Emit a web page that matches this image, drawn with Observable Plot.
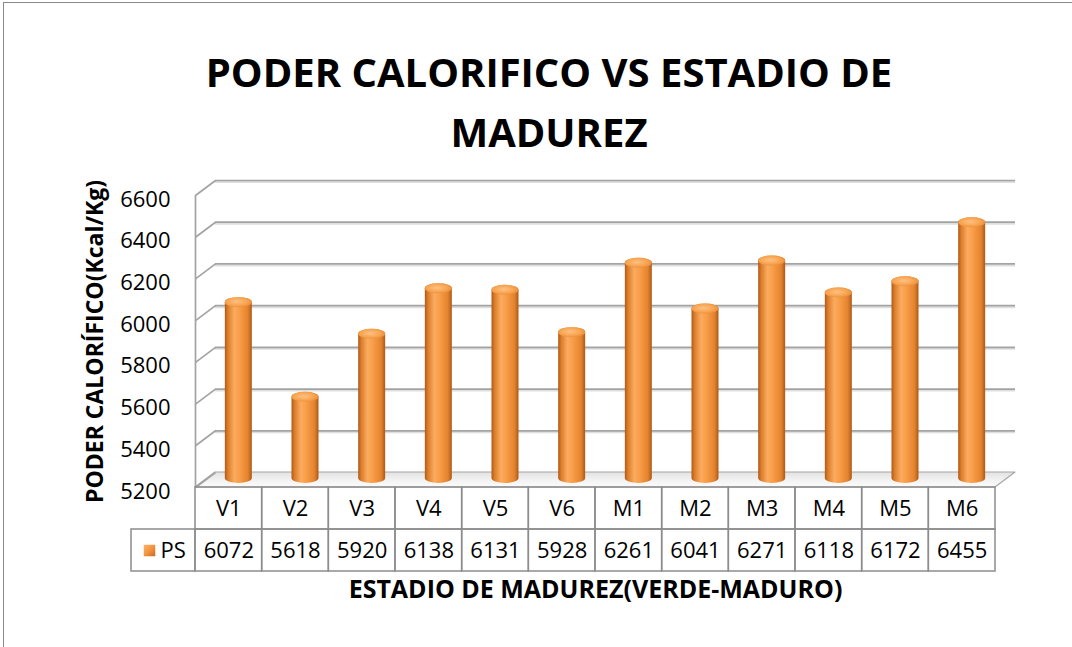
<!DOCTYPE html>
<html><head><meta charset="utf-8">
<script src="https://cdn.jsdelivr.net/npm/d3@7"></script>
<script src="https://cdn.jsdelivr.net/npm/@observablehq/plot@0.6"></script>
<style>
body{margin:0;background:#fff;}
#wrap{position:relative;width:1072px;height:647px;overflow:hidden;font-family:"Open Sans",sans-serif;background:#fff;}
#frame{position:absolute;left:3px;top:2px;width:1100px;height:700px;border-left:1.5px solid #8a8a8a;border-top:1.5px solid #8a8a8a;}
#title{position:absolute;left:13px;top:42px;width:1072px;text-align:center;font-weight:700;font-size:40px;line-height:60px;color:#000;}
#main{position:absolute;left:0;top:0;}
#table{position:absolute;left:0;top:486px;}
svg{overflow:visible;}
</style>
</head><body>
<div id="wrap">
  <div id="frame"></div>
  <div id="main"></div>
  <div id="table"></div>
  <div id="title">PODER CALORIFICO VS ESTADIO DE<br>MADUREZ</div>
</div>
<script>
// ---- data ----
const categories = ["V1","V2","V3","V4","V5","V6","M1","M2","M3","M4","M5","M6"];
const values = [6072,5618,5920,6138,6131,5928,6261,6041,6271,6118,6172,6455];
const seriesName = "PS";
const yTicks = [5200,5400,5600,5800,6000,6200,6400,6600];
const chartTitle = "PODER CALORIFICO VS ESTADIO DE MADUREZ";
const yTitle = "PODER CALORÍFICO(Kcal/Kg)";
const xTitle = "ESTADIO DE MADUREZ(VERDE-MADURO)";

// ---- layout ----
const W = 1072, H = 647, ML = 195, MR = 77, MT = 195, MB = 160;
const yMin = 5200, yMax = 6600;
const n = categories.length;
const plotW = W - ML - MR, plotH = H - MT - MB;
const ux = n / plotW, uy = (yMax - yMin) / plotH; // data units per px
const dXu = 20 * ux, dYu = 15 * uy;               // 3D depth
const halfBar = 13.5 * ux;
const font = '"Open Sans", sans-serif';

const rows = categories.map((c, i) => ({cat: c, i, v: values[i]}));
const floor = [
  {y: yMin, x1: 0, x2: n},
  {y: yMin + dYu, x1: dXu, x2: n + dXu}
];
const cx = d => d.i + 0.5 + dXu / 2;

const main = Plot.plot({
  width: W, height: H,
  marginLeft: ML, marginRight: MR, marginTop: MT, marginBottom: MB,
  x: {domain: [0, n], axis: null},
  y: {domain: [yMin, yMax], axis: null},
  style: {fontFamily: font, fontSize: "22px", color: "#000", background: "transparent", overflow: "visible"},
  marks: [
    Plot.areaX(floor, {y: "y", x1: "x1", x2: "x2", fill: "url(#floorGrad)", stroke: "#a6a6a6", strokeWidth: 1.2}),
    Plot.ruleY(yTicks.slice(1), {y: d => d + dYu, x1: dXu, x2: n + dXu, stroke: "#dedede", strokeWidth: 2, dy: 1.5}),
    Plot.ruleY(yTicks.slice(1), {y: d => d + dYu, x1: dXu, x2: n + dXu, stroke: "#a3a3a3", strokeWidth: 1.7}),
    Plot.link(yTicks, {x1: 0, y1: d => d, x2: dXu, y2: d => d + dYu, stroke: "#a3a3a3", strokeWidth: 1.7}),
    Plot.ruleX([0], {y1: yMin, y2: yMax, stroke: "#a3a3a3", strokeWidth: 1.7}),
    Plot.axisY(yTicks, {anchor: "left", tickSize: 0, tickPadding: 25, fontSize: 22, dy: 4, label: null, tickFormat: d => String(d)}),
    // cylinder bodies
    Plot.rect(rows, {x1: d => cx(d) - halfBar, x2: d => cx(d) + halfBar,
      y1: yMin + 4 * uy, y2: d => d.v + 8 * uy, rx: 13.5, ry: 5, fill: "url(#cylGrad)"}),
    // cylinder caps
    Plot.rect(rows, {x1: d => cx(d) - halfBar, x2: d => cx(d) + halfBar,
      y1: d => d.v - 2 * uy, y2: d => d.v + 8 * uy, rx: 13.5, ry: 5, fill: "url(#capGrad)"}),
    Plot.text([yTitle], {frameAnchor: "left", textAnchor: "middle", rotate: -90, dx: -100, fontSize: 23, fontWeight: 700, fill: "#000"}),
    Plot.text([xTitle], {frameAnchor: "bottom", textAnchor: "middle", dy: 110, fontSize: 25, fontWeight: 700, fill: "#000"})
  ]
});
const mainSvg = main.tagName.toLowerCase() === "svg" ? main : main.querySelector("svg");
const defs = d3.select(mainSvg).insert("defs", ":first-child");
const g1 = defs.append("linearGradient").attr("id", "cylGrad").attr("x1", 0).attr("x2", 1).attr("y1", 0).attr("y2", 0);
[[0,"#b05a17"],[0.12,"#dc7e2c"],[0.35,"#fbab5f"],[0.55,"#f89d48"],[0.85,"#e4832e"],[1,"#ad5918"]]
  .forEach(([o,c]) => g1.append("stop").attr("offset", o).attr("stop-color", c));
const g2 = defs.append("radialGradient").attr("id", "capGrad").attr("cx", 0.45).attr("cy", 0.45).attr("r", 0.6);
[[0,"#fdc186"],[0.6,"#f9a652"],[1,"#e88b38"]]
  .forEach(([o,c]) => g2.append("stop").attr("offset", o).attr("stop-color", c));
const g3 = defs.append("linearGradient").attr("id", "floorGrad").attr("x1", 0).attr("x2", 0).attr("y1", 0).attr("y2", 1);
[[0,"#e2e2e2"],[0.6,"#f4f4f4"],[1,"#fbfbfb"]]
  .forEach(([o,c]) => g3.append("stop").attr("offset", o).attr("stop-color", c));
const g4 = defs.append("linearGradient").attr("id", "swGrad").attr("x1", 0).attr("x2", 1).attr("y1", 0).attr("y2", 1);
[[0,"#fbb36b"],[0.5,"#f3953f"],[1,"#c8681f"]]
  .forEach(([o,c]) => g4.append("stop").attr("offset", o).attr("stop-color", c));
document.getElementById("main").appendChild(main);

// ---- data table ----
const legendW = 64 * ux;
const cells = [];
rows.forEach(d => {
  cells.push({x1: d.i, x2: d.i + 1, y1: 0, y2: 1});
  cells.push({x1: d.i, x2: d.i + 1, y1: 1, y2: 2});
});
cells.push({x1: -legendW, x2: 0, y1: 1, y2: 2});

const table = Plot.plot({
  width: W, height: 90,
  marginLeft: ML, marginRight: MR, marginTop: 1, marginBottom: 5,
  x: {domain: [0, n], axis: null},
  y: {domain: [0, 2], reverse: true, axis: null},
  style: {fontFamily: font, fontSize: "22px", color: "#000", background: "transparent", overflow: "visible"},
  marks: [
    Plot.rect(cells, {x1: "x1", x2: "x2", y1: "y1", y2: "y2", fill: "none", stroke: "#8c8c8c", strokeWidth: 1.5}),
    Plot.text(rows, {x: d => d.i + 0.5, y: 0.5, text: "cat", fontSize: 22, fill: "#000"}),
    Plot.text(rows, {x: d => d.i + 0.5, y: 1.5, text: d => String(d.v), fontSize: 22, fill: "#000"}),
    Plot.dot([seriesName], {x: -legendW, y: 1.5, dx: 18, symbol: "square", r: 6.5, fill: "url(#swGrad)"}),
    Plot.text([seriesName], {x: -legendW, y: 1.5, dx: 29, textAnchor: "start", fontSize: 22, fill: "#000"})
  ]
});
document.getElementById("table").appendChild(table);
</script>
</body></html>
